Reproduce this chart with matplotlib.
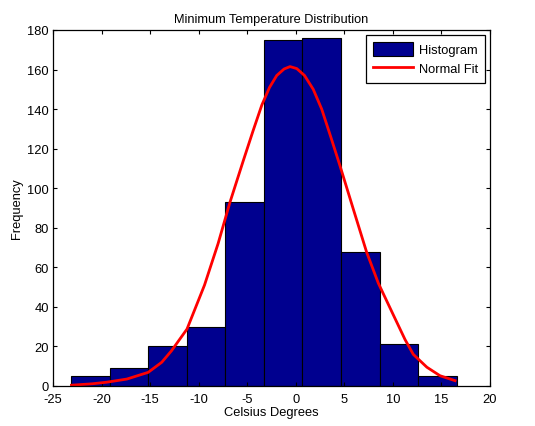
import matplotlib
matplotlib.use("Agg")
import matplotlib.pyplot as plt
import numpy as np

# Histogram data
bin_edges = [-23.15, -19.18, -15.21, -11.24, -7.26, -3.29, 0.68, 4.65, 8.63, 12.60, 16.57]
counts = [5, 9, 20, 30, 93, 175, 176, 68, 21, 5]

# Normal fit curve
fit_x = [-23.1, -21.0, -19.5, -17.4, -15.2, -13.8, -12.8, -11.2, -9.4, -8.0, -6.77,
         -5.4, -4.4, -3.5, -2.7, -1.96, -1.2, -0.59, 0.1, 0.9, 1.8, 2.67, 3.6,
         4.55, 5.92, 7.3, 8.5, 10.04, 11.25, 12.1, 13.5, 14.85, 16.4]
fit_y = [0.4, 1.1, 1.9, 3.5, 6.9, 12.0, 17.8, 28.8, 51.0, 72.0, 93.0,
         114.0, 129.0, 142.0, 151.0, 157.0, 160.3, 161.5, 160.5, 157.0, 150.0, 140.0, 126.0,
         111.4, 89.5, 67.6, 52.0, 36.0, 23.5, 16.0, 9.5, 5.2, 2.7]

xticks = [-25, -20, -15, -10, -5, 0, 5, 10, 15, 20]
yticks = [0, 20, 40, 60, 80, 100, 120, 140, 160, 180]

plt.rcParams['font.family'] = ['Liberation Sans', 'DejaVu Sans']
plt.rcParams['axes.unicode_minus'] = False

fig = plt.figure(figsize=(5.35, 4.27), dpi=100)
ax = fig.add_axes([53/535, 40/427, 437/535, 356/427])

widths = np.diff(bin_edges)
bars = ax.bar(bin_edges[:-1], counts, width=widths, align='edge', color='#00008F',
              edgecolor='black', linewidth=0.8, label='Histogram')
line, = ax.plot(fit_x, fit_y, color='#FF0000', linewidth=2.0, label='Normal Fit',
                solid_joinstyle='round')

ax.set_xlim(-25, 20)
ax.set_ylim(0, 180)
ax.set_xticks(xticks)
ax.set_yticks(yticks)
ax.tick_params(direction='in', top=True, right=True, labelsize=9.3, length=3, width=0.8)
ax.tick_params(axis='x', pad=5)
ax.tick_params(axis='y', pad=3)
for s in ax.spines.values():
    s.set_linewidth(0.9)

ax.set_title('Minimum Temperature Distribution', fontsize=9.2, pad=6)
ax.set_xlabel('Celsius Degrees', fontsize=9.3, labelpad=1)
ax.set_ylabel('Frequency', fontsize=9.3, labelpad=3)

leg = ax.legend([bars, line], ['Histogram', 'Normal Fit'], loc='upper right',
                fontsize=9.3, fancybox=False, framealpha=1,
                edgecolor='black', borderpad=0.55, handlelength=3.1, handleheight=1.2,
                borderaxespad=0.4, labelspacing=0.4, handletextpad=0.45)
leg.get_frame().set_linewidth(0.9)

fig.savefig('out.png', dpi=100)
